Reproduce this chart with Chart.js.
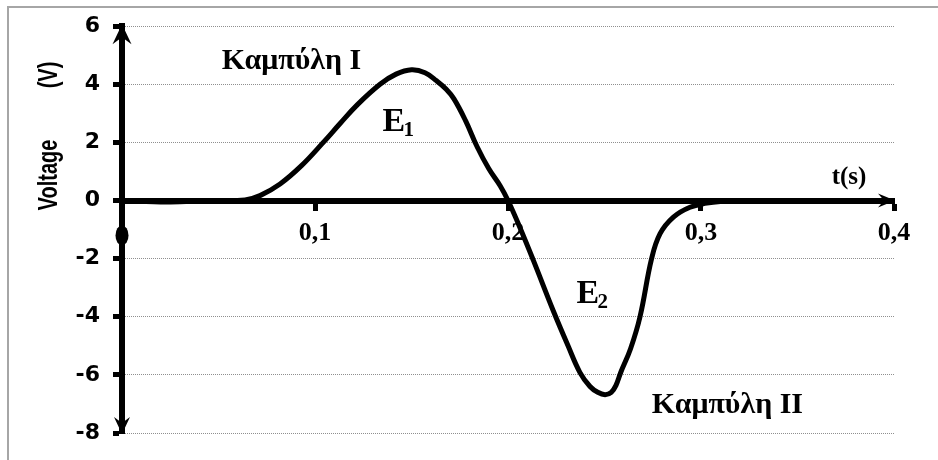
<!DOCTYPE html>
<html>
<head>
<meta charset="utf-8">
<script src="https://cdn.jsdelivr.net/npm/chart.js@4/dist/chart.umd.min.js"></script>
<style>
html, body { margin: 0; padding: 0; background: #fff; }
#wrap { width: 938px; height: 460px; }
</style>
</head>
<body>
<div id="wrap"><canvas id="myChart" width="938" height="460"></canvas></div>
<script>
'use strict';

// curve: t in seconds, voltage in volts
const timeValues = [0, 0.01, 0.02, 0.03, 0.045, 0.0637, 0.0715, 0.0819, 0.093, 0.1043, 0.113, 0.122, 0.1337, 0.142, 0.15, 0.157, 0.163, 0.168, 0.172, 0.178, 0.184, 0.19, 0.196, 0.2, 0.206, 0.2131, 0.2235, 0.231, 0.2373, 0.2425, 0.2465, 0.2503, 0.2535, 0.256, 0.2585, 0.2635, 0.2684, 0.2744, 0.2788, 0.2857, 0.2943, 0.303, 0.31, 0.32, 0.36, 0.4];
const voltageValues = [0, -0.03, -0.05, -0.04, 0, 0.02, 0.17, 0.57, 1.2, 2.0, 2.65, 3.3, 4.0, 4.35, 4.5, 4.4, 4.12, 3.83, 3.5, 2.75, 1.85, 1.1, 0.5, 0, -0.9, -2.05, -3.8, -4.98, -5.92, -6.4, -6.6, -6.68, -6.6, -6.35, -5.9, -5.1, -4.0, -2.0, -1.14, -0.57, -0.23, -0.09, -0.03, 0, 0, 0];

const xTickLabels = ['', '0,1', '0,2', '0,3', '0,4'];
const yTickLabels = ['-8', '-6', '-4', '-2', '0', '2', '4', '6'];

// black blob under the origin
const dotPoint = { t: 0, v: -1.2 };

const serif = '"Liberation Serif", "Times New Roman", serif';
const sans = '"DejaVu Sans", sans-serif';

let points = [];
for (let i = 0; i < timeValues.length; i++) {
  points.push({ x: timeValues[i], y: voltageValues[i] });
}

function drawText(ctx, text, x, y, font) {
  ctx.font = font;
  ctx.fillText(text, x, y);
}

const extrasPlugin = {
  id: 'extras',
  beforeDraw(chart) {
    const ctx = chart.ctx;
    ctx.save();
    ctx.strokeStyle = '#a6a6a6';
    ctx.lineWidth = 2;
    ctx.beginPath();
    ctx.moveTo(8, 460);
    ctx.lineTo(8, 7);
    ctx.lineTo(938, 7);
    ctx.stroke();

    // axis title, split like the original (text is stretched sideways there)
    ctx.fillStyle = '#000';
    ctx.textAlign = 'center';
    ctx.textBaseline = 'alphabetic';
    ctx.translate(57, 0);
    ctx.rotate(-Math.PI / 2);
    ctx.scale(1, 1.35);
    drawText(ctx, 'Voltage', -175, 0, 'bold 20px "Liberation Sans", Arial, sans-serif');
    drawText(ctx, '(V)', -75, 0, 'bold 20px "Liberation Sans", Arial, sans-serif');
    ctx.restore();
  },
  afterDraw(chart) {
    const ctx = chart.ctx;
    const xs = chart.scales.x;
    const ys = chart.scales.y;
    ctx.save();
    ctx.fillStyle = '#000';

    // arrow heads
    const x0 = xs.getPixelForValue(0);
    const yTop = ys.getPixelForValue(6);
    const yBot = ys.getPixelForValue(-8);
    const yZero = ys.getPixelForValue(0);
    const xEnd = xs.getPixelForValue(0.4);

    ctx.beginPath();
    ctx.moveTo(x0, yTop - 2);
    ctx.lineTo(x0 - 9.5, yTop + 18);
    ctx.lineTo(x0, yTop + 11);
    ctx.lineTo(x0 + 9.5, yTop + 18);
    ctx.closePath();
    ctx.fill();

    ctx.beginPath();
    ctx.moveTo(x0, yBot + 1);
    ctx.lineTo(x0 - 8, yBot - 16);
    ctx.lineTo(x0, yBot - 10);
    ctx.lineTo(x0 + 8, yBot - 16);
    ctx.closePath();
    ctx.fill();

    ctx.beginPath();
    ctx.moveTo(xEnd + 1, yZero);
    ctx.lineTo(xEnd - 16, yZero - 7);
    ctx.lineTo(xEnd - 10, yZero);
    ctx.lineTo(xEnd - 16, yZero + 7);
    ctx.closePath();
    ctx.fill();

    // origin blob
    ctx.beginPath();
    ctx.ellipse(xs.getPixelForValue(dotPoint.t), ys.getPixelForValue(dotPoint.v), 6.5, 10, 0, 0, Math.PI * 2);
    ctx.fill();

    // labels in the plot
    ctx.textBaseline = 'alphabetic';
    ctx.textAlign = 'center';
    drawText(ctx, 'Καμπύλη I', xs.getPixelForValue(0.0878), ys.getPixelForValue(4.54), 'bold 30px ' + serif);
    drawText(ctx, 'Καμπύλη II', xs.getPixelForValue(0.3137), ys.getPixelForValue(-7.32), 'bold 30px ' + serif);
    drawText(ctx, 't(s)', xs.getPixelForValue(0.3767), ys.getPixelForValue(0.58), 'bold 25px ' + serif);

    ctx.textAlign = 'left';
    let ex = xs.getPixelForValue(0.135);
    let ey = ys.getPixelForValue(2.41);
    drawText(ctx, 'E', ex, ey, 'bold 34px ' + serif);
    drawText(ctx, '1', ex + 21, ey + 5, 'bold 21px ' + serif);
    ex = xs.getPixelForValue(0.2355);
    ey = ys.getPixelForValue(-3.54);
    drawText(ctx, 'E', ex, ey, 'bold 34px ' + serif);
    drawText(ctx, '2', ex + 21, ey + 5, 'bold 21px ' + serif);
    ctx.restore();
  }
};

const config = {
  type: 'scatter',
  data: {
    datasets: [{
      label: 'Voltage',
      data: points,
      showLine: true,
      borderColor: '#000',
      borderWidth: 5,
      pointRadius: 0,
      tension: 0.4,
      fill: false
    }]
  },
  options: {
    responsive: false,
    animation: false,
    devicePixelRatio: 1,
    layout: { padding: { left: 0, top: 25, right: 44, bottom: 27 } },
    plugins: { legend: { display: false }, tooltip: { enabled: false } },
    scales: {
      x: {
        type: 'linear',
        min: 0,
        max: 0.4,
        position: { y: 0 },
        afterFit(scale) { scale.height = 0; },
        ticks: {
          stepSize: 0.1,
          padding: 10,
          color: '#000',
          font: { family: serif, size: 26, weight: 'bold' },
          callback: (value, index) => xTickLabels[index]
        },
        grid: { drawOnChartArea: false, tickLength: 7, tickWidth: 5, tickColor: '#000' },
        border: { color: '#000', width: 6 }
      },
      y: {
        type: 'linear',
        min: -8,
        max: 6,
        position: 'left',
        afterFit(scale) { scale.width = 122; },
        ticks: {
          stepSize: 2,
          padding: 13,
          color: '#000',
          font: { family: sans, size: 22, weight: 'bold' },
          callback: (value, index) => yTickLabels[index]
        },
        grid: { color: '#8f8f8f', lineWidth: 1, tickLength: 9, tickWidth: 5, tickColor: '#000', tickBorderDash: [] },
        border: { color: '#000', width: 6, dash: [1, 1] }
      }
    }
  },
  plugins: [extrasPlugin]
};

const myChart = new Chart(document.getElementById('myChart'), config);
</script>
</body>
</html>
